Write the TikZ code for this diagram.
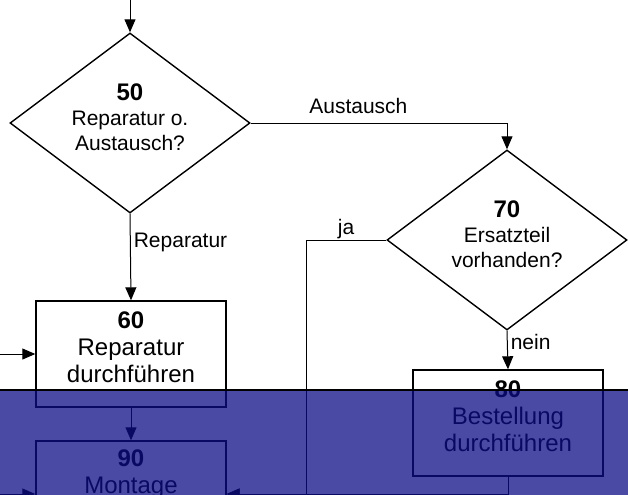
\documentclass[tikz,border=0pt]{standalone}
\usepackage{fontspec}
\setmainfont{Liberation Sans}
\usetikzlibrary{shapes.geometric,arrows.meta}
\definecolor{bandblue}{RGB}{13,13,134}
\tikzset{every picture/.style={x=0.5pt, y=-0.5pt}}
\tikzset{flow/.style={draw, line width=0.7pt, align=center, inner sep=0pt,
  font=\fontsize{12}{13.5}\selectfont}}
\tikzset{box/.style={flow, rectangle, minimum width=95pt, minimum height=53pt, text depth=7pt}}
\tikzset{dec/.style={flow, diamond, aspect=1.333, minimum width=120pt,
  minimum height=90pt, text depth=6pt, font=\fontsize{10.5}{12.5}\selectfont}}
\tikzset{arr/.style={-{Triangle[length=6.5pt,width=5.5pt]}, line width=0.5pt}}
\tikzset{lbl/.style={font=\fontsize{10.5}{12}\selectfont, inner sep=1.5pt}}
\newcommand\stepno[1]{{\fontsize{12}{13.5}\selectfont\bfseries #1}}

\begin{document}
\begin{tikzpicture}
\useasboundingbox (0,0) rectangle (628,494);
\clip (0,0) rectangle (628,494);
% steps
\node[dec] (d50) at (130,123) {\stepno{50}\\Reparatur o.\\Austausch?};
\node[dec] (d70) at (507,240) {\stepno{70}\\Ersatzteil\\vorhanden?};
\node[box] (b60) at (131,354) {\stepno{60}\\Reparatur\\durchf\"uhren};
\node[box] (b80) at (508,423) {\stepno{80}\\Bestellung\\durchf\"uhren};
\node[box] (b90) at (131,494) {};
\node[flow, draw=none, anchor=north] (t90) at ([yshift=-4.5pt]b90.north) {\stepno{90}\\Montage};
% free ends
\coordinate (in50) at (130,-5);
\coordinate (in60) at (-5,354);
\coordinate (in90) at (-5,494);
\coordinate (jcol) at (306,494);
% connectors
\draw[arr] (in50) -- (d50.north);
\draw[arr] (d50.east) -| node[lbl, pos=0.21, above=3pt] {Austausch} (d70.north);
\draw[arr] (d50.south) -- node[lbl, pos=0.33, right] {Reparatur} (b60.north);
\draw[arr] (d70.west) -| node[lbl, pos=0.25, above=-1pt] {ja} (jcol) -- (b90.east);
\draw[arr] (d70.south) -- node[lbl, pos=0.3, right] {nein} (b80.north);
\draw[arr] (b80.south) |- (b90.east);
\draw[arr] (b60.south) -- (b90.north);
\draw[arr] (in60) -- (b60.west);
\draw[arr] (in90) -- (b90.west);
% shaded band
\fill[bandblue, fill opacity=0.75] (0,390) rectangle (628,500);
\draw[line width=0.7pt] (0,390) -- (628,390);
\end{tikzpicture}
\end{document}
